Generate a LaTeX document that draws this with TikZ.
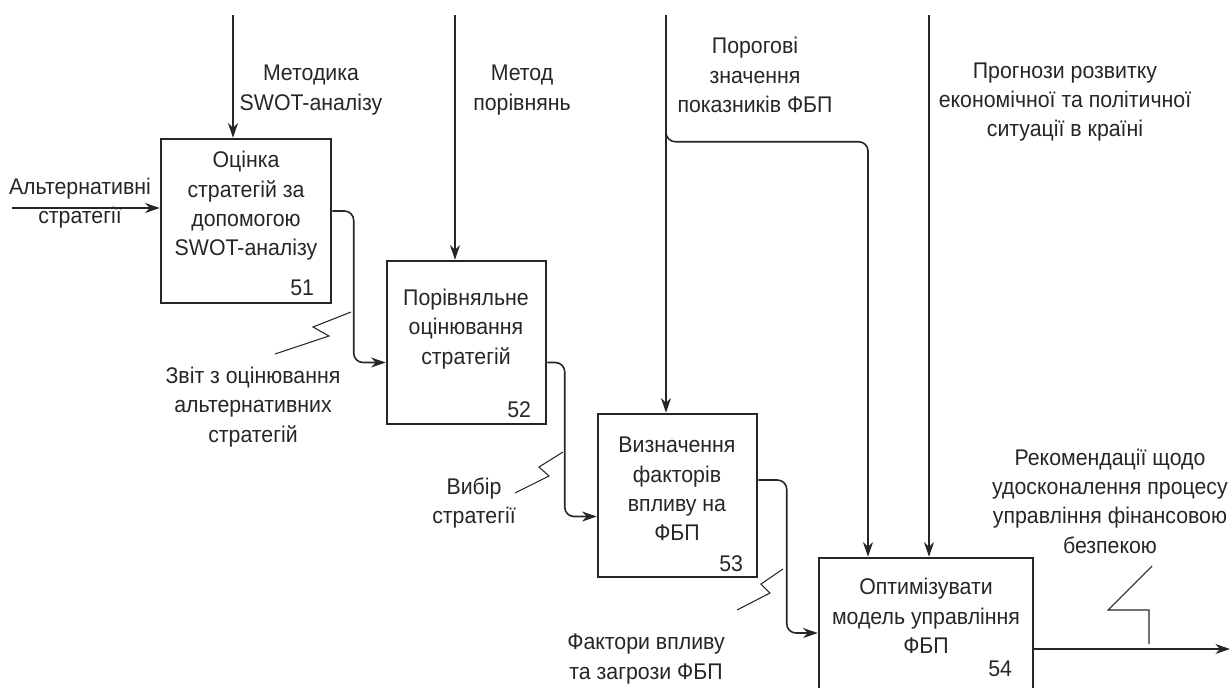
\documentclass[tikz,border=0pt]{standalone}
\usepackage{fontspec}
\setmainfont[FakeStretch=0.94]{Liberation Sans}
\usetikzlibrary{arrows.meta,calc,positioning}
\tikzset{
  bloque/.style={draw=black!85,line width=1.9pt,inner sep=0pt},
  flujo/.style={-{Stealth[length=11pt,width=7.5pt]},draw=black!85,line width=1.2pt,rounded corners=7pt},
  rayo/.style={draw=black!85,line width=0.8pt},
  txt/.style={align=center,inner sep=0pt,text=black!85,font=\fontsize{17}{22}\selectfont},
  num/.style={anchor=east,inner sep=0pt,text=black!85,font=\fontsize{17}{22}\selectfont}
}

\begin{document}
\begin{tikzpicture}[x=0.75pt,y=-0.75pt]
\useasboundingbox (0,0) rectangle (1231,687);
% bloques
\node[bloque,minimum width=127.5pt,minimum height=123pt] (b51) at (246,221) {};
\node[bloque,minimum width=119.25pt,minimum height=122.25pt] (b52) at (466.5,342.5) {};
\node[bloque,minimum width=119.25pt,minimum height=122.25pt] (b53) at (677.5,495.5) {};
\node[bloque,minimum width=160.5pt,minimum height=122.25pt] (b54) at (926,639.5) {};
\node[txt] (t51) at (246,206) {Оцінка\\стратегій за\\допомогою\\SWOT-аналізу};
\node[txt] (t52) at (466,329) {Порівняльне\\оцінювання\\стратегій};
\node[txt] (t53) at (677,489) {Визначення\\факторів\\впливу на\\ФБП};
\node[txt] (t54) at (926,616) {Оптимізувати\\модель управління\\ФБП};
\node[num] (n51) at ($(b51.south east)+(-18,-16)$) {51};
\node[num] (n52) at ($(b52.south east)+(-16,-16)$) {52};
\node[num] (n53) at ($(b53.south east)+(-15,-15)$) {53};
\node[num] (n54) at ($(b54.north east)+(-22,112)$) {54};
% etiquetas
\node[txt] (lmet) at (311,90) {Методика\\SWOT-аналізу};
\node[txt] (lpor) at (522,90) {Метод\\порівнянь};
\node[txt] (lpog) at (755,75) {Порогові\\значення\\показників ФБП};
\node[txt] (lpro) at (1065,102) {Прогнози розвитку\\економічної та політичної\\ситуації в країні};
\node[txt] (lalt) at (80,203) {Альтернативні\\стратегії};
\node[txt] (lzvit) at (253,407) {Звіт з оцінювання\\альтернативних\\стратегій};
\node[txt] (lvyb) at (474,503) {Вибір\\стратегії};
\node[txt] (lfak) at (646,659) {Фактори впливу\\та загрози ФБП};
\node[txt] (lrek) at (1110,501) {Рекомендації щодо\\удосконалення процесу\\управління фінансовою\\безпекою};
% puntos libres
\coordinate (c1) at (233,15);
\coordinate (c2) at (455,15);
\coordinate (c3) at (666,15);
\coordinate (c4) at (929,15);
\coordinate (ent) at (12,208);
\coordinate (sal) at (1230,649);
% controles
\draw[flujo] (c1) -- (c1 |- b51.north);
\draw[flujo] (c2) -- (c2 |- b52.north);
\draw[flujo] (c3) -- (c3 |- b53.north);
\draw[flujo] ($(c3)+(0,100)$) |- ($(b54.north)+(-58,-415)$) -- ($(b54.north)+(-58,0)$);
\draw[flujo] (c4) -- (c4 |- b54.north);
% entradas y salidas
\draw[flujo] (ent) -- (ent -| b51.west);
\draw[flujo] ($(b51.east)+(0,-10)$) -| ($(b52.west)+(-32,20)$) -- ($(b52.west)+(0,20)$);
\draw[flujo] ($(b52.east)+(0,20)$) -| ($(b53.west)+(-32,21)$) -- ($(b53.west)+(0,21)$);
\draw[flujo] ($(b53.east)+(0,-15.5)$) -| ($(b54.west)+(-31,-6.5)$) -- ($(b54.west)+(0,-6.5)$);
\draw[flujo] (b54.east |- sal) -- (sal);
% rayos
\draw[rayo] (351,312) -- (313,327) -- (329,336) -- (275,354);
\draw[rayo] (563,452) -- (539,467) -- (549,476) -- (515,493);
\draw[rayo] (783,569) -- (761,584) -- (770,593) -- (737,610);
\draw[rayo] (1152,566) -- (1108,610) -- (1149,610) -- (1149,644);
\end{tikzpicture}
\end{document}
